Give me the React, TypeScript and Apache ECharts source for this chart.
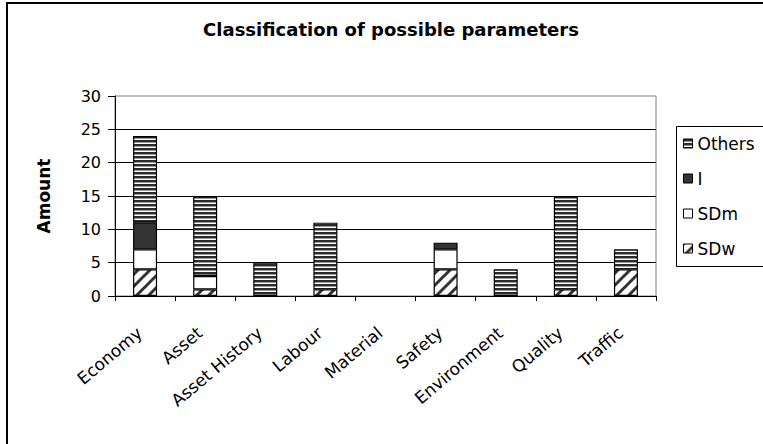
import { useEffect, useRef } from "react";
import * as echarts from "echarts";

// Parameter groups along the x axis
const categories = [
  "Economy",
  "Asset",
  "Asset History",
  "Labour",
  "Material",
  "Safety",
  "Environment",
  "Quality",
  "Traffic",
];

// Stacked amounts per group, bottom to top
const sdwValues = [4, 1, 0, 1, 0, 4, 0, 1, 4];
const sdmValues = [3, 2, 0, 0, 0, 3, 0, 0, 0];
const iValues = [4, 0, 0, 0, 0, 1, 0, 0, 0];
const othersValues = [13, 12, 5, 10, 0, 0, 4, 14, 3];

const seriesNames = ["SDw", "SDm", "I", "Others"];
const legendOrder = ["Others", "I", "SDm", "SDw"];

const yMin = 0;
const yMax = 30;
const yStep = 5;

const FONT = "'DejaVu Sans', 'Liberation Sans', Arial, sans-serif";

function makeTile(w: number, h: number, draw: (ctx: CanvasRenderingContext2D) => void) {
  const c = document.createElement("canvas");
  c.width = w;
  c.height = h;
  const ctx = c.getContext("2d")!;
  draw(ctx);
  return c;
}

export default function App() {
  const ref = useRef<HTMLDivElement>(null);

  useEffect(() => {
    if (!ref.current) return;

    // horizontal stripes fill
    const stripes = makeTile(4, 4, (ctx) => {
      ctx.fillStyle = "#ffffff";
      ctx.fillRect(0, 0, 4, 4);
      ctx.fillStyle = "#2b2b2b";
      ctx.fillRect(0, 0, 4, 2);
      ctx.fillStyle = "#9a9a9a";
      ctx.fillRect(0, 2, 4, 1);
    });

    // wide diagonal hatch fill
    const s = 12;
    const hatch = makeTile(s, s, (ctx) => {
      ctx.fillStyle = "#ffffff";
      ctx.fillRect(0, 0, s, s);
      ctx.strokeStyle = "#333333";
      ctx.lineWidth = 3;
      ctx.beginPath();
      ctx.moveTo(-1, s + 1);
      ctx.lineTo(s + 1, -1);
      ctx.moveTo(-s / 4, s / 4);
      ctx.lineTo(s / 4, -s / 4);
      ctx.moveTo((3 * s) / 4, (5 * s) / 4);
      ctx.lineTo((5 * s) / 4, (3 * s) / 4);
      ctx.stroke();
    });

    const fills: Record<string, any> = {
      SDw: { image: hatch, repeat: "repeat", imageWidth: s, imageHeight: s },
      SDm: "#ffffff",
      I: "#333333",
      Others: { image: stripes, repeat: "repeat", imageWidth: 4, imageHeight: 4 },
    };
    const valuesByName: Record<string, number[]> = {
      SDw: sdwValues,
      SDm: sdmValues,
      I: iValues,
      Others: othersValues,
    };

    const chart = echarts.init(ref.current, undefined, { renderer: "svg" });
    chart.setOption({
      animation: false,
      backgroundColor: "#ffffff",
      textStyle: { fontFamily: FONT, color: "#000" },
      title: {
        text: "Classification of possible parameters",
        left: 386,
        top: 15,
        textAlign: "center",
        textStyle: { fontSize: 18, fontWeight: "bold", color: "#000", fontFamily: FONT },
      },
      legend: {
        orient: "vertical",
        left: 676,
        top: 126,
        data: legendOrder,
        icon: "rect",
        itemWidth: 9,
        itemHeight: 9,
        itemGap: 18,
        padding: [9, 10, 9, 7],
        borderWidth: 0,
        textStyle: { fontSize: 17, color: "#000", fontFamily: FONT },
        itemStyle: { borderColor: "#000", borderWidth: 1 },
      },
      grid: {
        left: 115,
        right: 107,
        top: 96,
        bottom: 148,
        show: true,
        borderColor: "#808080",
        borderWidth: 1,
      },
      xAxis: {
        type: "category",
        data: categories,
        axisLine: { lineStyle: { color: "#000", width: 1 } },
        axisTick: { show: true, alignWithLabel: false, length: 5, lineStyle: { color: "#000" } },
        axisLabel: {
          rotate: 40,
          interval: 0,
          fontSize: 17,
          color: "#000",
          margin: 41,
          align: "right",
          verticalAlign: "bottom",
          fontFamily: FONT,
        },
      },
      yAxis: {
        type: "value",
        min: yMin,
        max: yMax,
        interval: yStep,
        name: "Amount",
        nameLocation: "middle",
        nameGap: 63,
        nameRotate: 90,
        nameTextStyle: { fontSize: 17, fontWeight: "bold", color: "#000", fontFamily: FONT },
        axisLine: { show: true, lineStyle: { color: "#000", width: 1 } },
        axisTick: { show: true, length: 7, lineStyle: { color: "#000" } },
        axisLabel: { fontSize: 16, color: "#000", margin: 14, fontFamily: FONT },
        splitLine: { show: true, showMaxLine: false, lineStyle: { color: "#000", width: 1 } },
      },
      graphic: [
        {
          // outer chart frame
          type: "rect",
          silent: true,
          z: 100,
          shape: { x: 7, y: 3, width: 820, height: 520 },
          style: { fill: "none", stroke: "#000", lineWidth: 2 },
        },
        {
          // legend frame
          type: "rect",
          silent: true,
          z: 100,
          shape: { x: 676.5, y: 126.5, width: 200, height: 140 },
          style: { fill: "none", stroke: "#000", lineWidth: 1 },
        },
      ],
      series: seriesNames.map((name) => ({
        name,
        type: "bar",
        stack: "amount",
        barWidth: 24,
        data: valuesByName[name].map((v) => (v === 0 ? null : v)),
        itemStyle: { color: fills[name], borderColor: "#000", borderWidth: 1.2 },
        emphasis: { disabled: true },
      })),
    });

    return () => chart.dispose();
  }, []);

  return (
    <div
      ref={ref}
      style={{ position: "fixed", left: 0, top: 0, width: 763, height: 444 }}
    />
  );
}
